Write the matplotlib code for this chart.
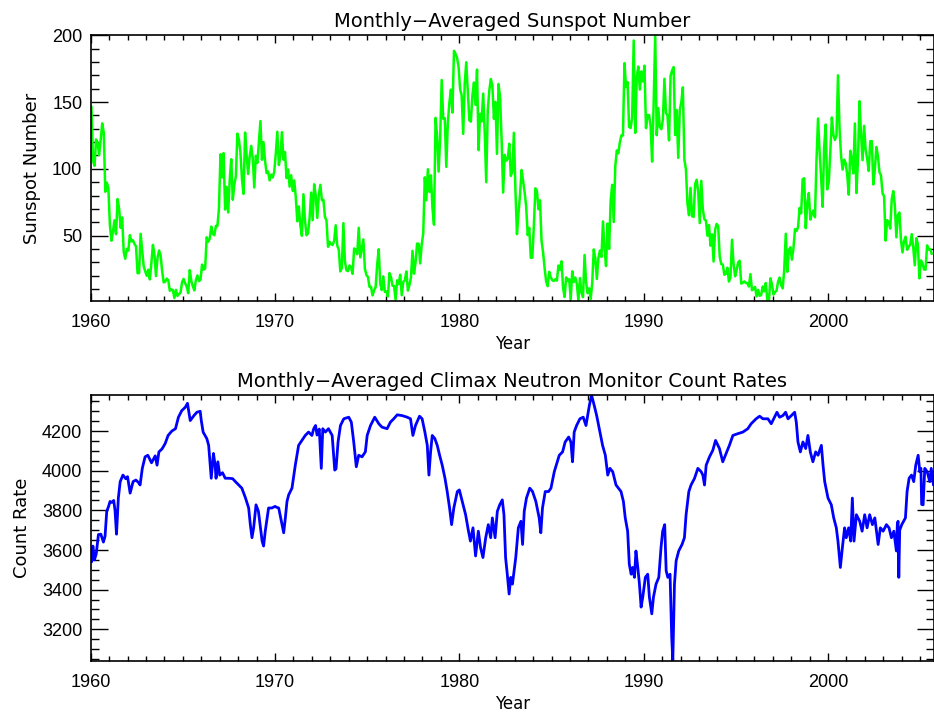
import numpy as np
import matplotlib
matplotlib.use('Agg')
import matplotlib.pyplot as plt
from matplotlib.ticker import MultipleLocator

plt.rcParams['font.family'] = ['Liberation Sans', 'DejaVu Sans']

# Середньомісячне число сонячних плям, січень 1960 - серпень 2005
sunspot = np.array([
    146.3, 106.0, 102.2, 122.0, 119.6, 110.2, 121.7, 134.1, 127.2, 82.8, 89.6, 85.6,   # 1960
    57.9, 46.1, 53.0, 61.4, 51.0, 77.4, 70.2, 55.8, 63.6, 37.7, 32.6, 40.0,            # 1961
    38.7, 50.3, 45.6, 46.4, 43.7, 42.0, 21.8, 21.8, 51.3, 39.5, 26.9, 23.2,            # 1962
    19.8, 24.4, 17.1, 29.3, 43.0, 35.9, 19.6, 33.2, 38.8, 35.3, 23.4, 14.9,            # 1963
    15.3, 17.7, 16.5, 8.6, 9.5, 9.1, 3.1, 9.3, 4.7, 6.1, 7.4, 15.1,                    # 1964
    17.5, 14.2, 11.7, 6.8, 24.1, 15.9, 11.9, 8.9, 16.8, 20.1, 15.8, 17.0,              # 1965
    28.2, 24.4, 25.3, 48.7, 45.3, 47.7, 56.7, 51.2, 50.2, 57.2, 57.2, 70.4,            # 1966
    110.9, 93.6, 111.8, 69.5, 86.5, 67.3, 91.5, 107.2, 76.8, 88.2, 94.3, 126.4,        # 1967
    121.8, 111.9, 92.2, 81.2, 127.2, 110.3, 96.1, 109.3, 117.2, 107.7, 86.0, 109.8,    # 1968
    104.4, 120.5, 135.8, 106.8, 120.0, 106.0, 96.8, 98.0, 91.3, 95.7, 93.5, 97.9,      # 1969
    111.5, 127.8, 102.9, 109.5, 127.5, 106.8, 112.5, 93.0, 99.5, 86.6, 95.2, 83.5,     # 1970
    91.3, 79.0, 60.7, 71.8, 57.5, 49.8, 81.0, 61.4, 50.2, 51.7, 63.2, 82.2,            # 1971
    61.5, 88.4, 80.1, 63.2, 80.5, 88.0, 76.5, 76.8, 64.0, 61.3, 41.6, 45.3,            # 1972
    43.4, 42.9, 46.0, 57.7, 42.4, 39.5, 23.1, 25.6, 59.3, 30.7, 23.9, 23.3,            # 1973
    27.6, 26.0, 21.3, 40.3, 39.5, 36.0, 55.8, 33.6, 40.2, 47.1, 25.0, 20.5,            # 1974
    18.9, 11.5, 11.5, 5.1, 9.0, 11.4, 28.2, 39.7, 13.9, 9.1, 19.4, 7.8,                # 1975
    8.1, 4.3, 21.9, 18.8, 12.4, 12.2, 1.9, 16.4, 13.5, 20.6, 5.2, 15.3,                # 1976
    16.4, 23.1, 8.7, 12.9, 18.6, 38.5, 21.4, 30.1, 44.0, 43.8, 29.1, 43.2,             # 1977
    51.9, 93.6, 76.5, 99.7, 82.7, 95.1, 70.4, 58.1, 138.2, 125.1, 97.9, 122.7,         # 1978
    166.6, 137.5, 138.0, 101.5, 134.4, 149.5, 159.4, 142.2, 188.4, 186.2, 183.3, 176.3,  # 1979
    159.6, 155.0, 126.2, 164.1, 179.9, 157.3, 136.3, 135.4, 155.0, 164.7, 147.9, 174.4,  # 1980
    114.0, 141.3, 135.5, 156.4, 127.5, 90.0, 143.8, 158.7, 167.3, 162.4, 137.5, 150.1,   # 1981
    111.2, 163.6, 153.8, 122.0, 82.2, 110.4, 106.1, 107.6, 118.8, 94.7, 98.1, 127.0,     # 1982
    84.3, 51.0, 66.5, 80.7, 99.2, 91.1, 82.2, 71.8, 50.3, 55.8, 33.3, 33.4,            # 1983
    57.0, 85.4, 83.5, 69.7, 76.4, 46.1, 37.4, 25.5, 15.7, 12.0, 22.8, 18.7,            # 1984
    16.5, 15.9, 17.2, 16.2, 27.5, 24.2, 30.7, 11.1, 3.9, 18.6, 16.2, 17.3,             # 1985
    2.5, 23.2, 15.1, 18.5, 13.7, 1.1, 18.1, 7.4, 3.8, 35.4, 15.2, 6.8,                 # 1986
    10.4, 2.4, 14.7, 39.6, 33.0, 17.4, 33.0, 38.7, 33.9, 60.6, 39.9, 27.1,             # 1987
    59.0, 40.0, 76.2, 88.0, 60.1, 101.8, 113.8, 111.6, 120.1, 125.1, 125.1, 179.2,     # 1988
    161.3, 165.1, 131.4, 130.6, 138.5, 196.2, 126.9, 168.9, 176.7, 159.4, 173.0, 165.5,  # 1989
    177.3, 130.5, 140.3, 140.3, 132.2, 105.4, 149.4, 200.3, 125.2, 145.5, 131.4, 129.7,  # 1990
    136.9, 167.5, 141.9, 140.0, 121.3, 169.7, 173.7, 176.3, 125.3, 144.1, 108.2, 144.4,  # 1991
    150.0, 161.1, 106.7, 99.8, 73.8, 65.2, 85.7, 64.5, 63.9, 88.7, 91.8, 82.6,         # 1992
    59.3, 91.0, 69.8, 62.2, 61.3, 49.8, 57.9, 42.4, 50.9, 30.5, 54.3, 58.7,            # 1993
    57.0, 34.2, 28.6, 28.3, 20.6, 21.3, 25.9, 15.5, 18.9, 46.8, 28.8, 19.4,            # 1994
    24.2, 29.9, 31.1, 14.0, 14.5, 15.6, 14.5, 14.3, 11.8, 21.1, 9.0, 10.0,             # 1995
    11.5, 4.4, 9.2, 4.8, 5.5, 11.8, 8.2, 14.4, 1.6, 0.9, 17.9, 13.3,                   # 1996
    5.7, 7.6, 8.7, 15.5, 18.5, 12.7, 10.4, 24.4, 51.3, 22.8, 39.0, 41.2,               # 1997
    31.9, 40.3, 54.8, 53.4, 56.3, 70.7, 66.6, 92.2, 92.9, 55.5, 74.0, 81.9,            # 1998
    62.0, 66.3, 68.8, 63.7, 106.4, 137.7, 113.5, 93.7, 71.5, 116.7, 133.2, 84.6,       # 1999
    90.1, 112.9, 138.5, 125.5, 121.6, 124.9, 170.1, 130.5, 109.7, 99.4, 106.8, 104.4,  # 2000
    95.6, 80.6, 113.5, 107.7, 96.6, 134.0, 81.8, 106.4, 150.7, 125.5, 106.5, 132.2,    # 2001
    114.1, 107.4, 98.4, 120.7, 120.8, 88.3, 99.6, 116.4, 109.6, 97.5, 95.0, 81.6,      # 2002
    79.5, 46.2, 61.5, 60.0, 55.2, 77.4, 83.3, 72.7, 48.7, 65.5, 67.3, 46.5,            # 2003
    37.3, 45.8, 49.1, 39.3, 41.5, 43.2, 51.1, 40.9, 27.7, 48.0, 43.5, 17.9,            # 2004
    31.3, 29.2, 24.5, 24.4, 42.6, 39.6, 39.9, 36.4,                                    # 2005
])
sunspot_year = 1960 + (np.arange(len(sunspot)) + 0.5) / 12.0

# Швидкість лічби нейтронного монітора Climax
neutron_year = [
    1960.00, 1960.05, 1960.12, 1960.20, 1960.30, 1960.42, 1960.55, 1960.69, 1960.78,
    1960.87, 1960.97, 1961.05, 1961.14, 1961.25, 1961.32, 1961.40, 1961.50, 1961.60,
    1961.75, 1961.90, 1962.00, 1962.14, 1962.30, 1962.45, 1962.60, 1962.68, 1962.80,
    1962.95, 1963.10, 1963.30, 1963.50, 1963.60, 1963.70, 1963.87, 1964.04, 1964.20,
    1964.40, 1964.60, 1964.76, 1964.94, 1965.13, 1965.25, 1965.40, 1965.60, 1965.76,
    1965.94, 1966.00, 1966.10, 1966.30, 1966.40, 1966.54, 1966.66, 1966.75, 1966.80,
    1966.90, 1967.00, 1967.15, 1967.30, 1967.50, 1967.70, 1967.85, 1968.03, 1968.20,
    1968.40, 1968.57, 1968.66, 1968.75, 1968.84, 1968.97, 1969.10, 1969.30, 1969.38,
    1969.47, 1969.65, 1969.83, 1970.00, 1970.10, 1970.20, 1970.38, 1970.47, 1970.56,
    1970.65, 1970.74, 1970.92, 1971.10, 1971.28, 1971.46, 1971.64, 1971.82, 1972.00,
    1972.10, 1972.20, 1972.28, 1972.40, 1972.51, 1972.59, 1972.73, 1972.90, 1973.10,
    1973.24, 1973.31, 1973.42, 1973.55, 1973.73, 1974.00, 1974.14, 1974.27, 1974.41,
    1974.54, 1974.72, 1974.90, 1975.00, 1975.18, 1975.41, 1975.63, 1975.80, 1976.08,
    1976.26, 1976.44, 1976.63, 1976.90, 1977.17, 1977.35, 1977.48, 1977.62, 1977.84,
    1977.98, 1978.13, 1978.26, 1978.35, 1978.44, 1978.53, 1978.67, 1978.80, 1978.93,
    1979.07, 1979.22, 1979.34, 1979.47, 1979.58, 1979.70, 1979.89, 1980.00, 1980.16,
    1980.34, 1980.48, 1980.60, 1980.74, 1980.88, 1981.03, 1981.15, 1981.28, 1981.43,
    1981.57, 1981.70, 1981.79, 1981.94, 1982.06, 1982.19, 1982.33, 1982.42, 1982.51,
    1982.60, 1982.70, 1982.79, 1982.88, 1982.97, 1983.06, 1983.20, 1983.34, 1983.43,
    1983.52, 1983.64, 1983.82, 1983.97, 1984.15, 1984.33, 1984.42, 1984.51, 1984.66,
    1984.84, 1984.97, 1985.15, 1985.42, 1985.60, 1985.74, 1985.93, 1986.05, 1986.14,
    1986.23, 1986.36, 1986.54, 1986.72, 1986.87, 1986.96, 1987.05, 1987.17, 1987.32,
    1987.45, 1987.59, 1987.77, 1987.92, 1988.05, 1988.17, 1988.32, 1988.50, 1988.77,
    1988.90, 1989.00, 1989.13, 1989.22, 1989.32, 1989.40, 1989.50, 1989.58, 1989.68,
    1989.77, 1989.86, 1989.95, 1990.09, 1990.22, 1990.31, 1990.44, 1990.53, 1990.67,
    1990.82, 1990.94, 1991.03, 1991.14, 1991.22, 1991.31, 1991.43, 1991.52, 1991.58,
    1991.67, 1991.76, 1991.90, 1992.08, 1992.21, 1992.30, 1992.45, 1992.57, 1992.76,
    1992.94, 1993.12, 1993.21, 1993.30, 1993.39, 1993.57, 1993.75, 1993.90, 1994.11,
    1994.29, 1994.47, 1994.65, 1994.84, 1995.11, 1995.38, 1995.65, 1995.83, 1996.10,
    1996.29, 1996.47, 1996.74, 1996.92, 1997.10, 1997.23, 1997.37, 1997.55, 1997.70,
    1997.83, 1998.01, 1998.19, 1998.28, 1998.37, 1998.50, 1998.64, 1998.79, 1998.91,
    1999.04, 1999.18, 1999.33, 1999.46, 1999.64, 1999.73, 1999.82, 2000.00, 2000.18,
    2000.31, 2000.45, 2000.54, 2000.67, 2000.78, 2000.90, 2000.99, 2001.12, 2001.23,
    2001.32, 2001.41, 2001.54, 2001.72, 2001.85, 2001.99, 2002.12, 2002.26, 2002.41,
    2002.54, 2002.72, 2002.84, 2002.99, 2003.17, 2003.31, 2003.44, 2003.57, 2003.71,
    2003.76, 2003.80, 2003.84, 2003.89, 2004.00, 2004.20, 2004.29, 2004.40, 2004.53,
    2004.65, 2004.76, 2004.89, 2004.98, 2005.04, 2005.08, 2005.16, 2005.25, 2005.38,
    2005.52, 2005.60, 2005.72,
]
neutron_rate = [
    3600, 3540, 3620, 3550, 3580, 3678, 3680, 3640, 3670,
    3795, 3820, 3845, 3840, 3850, 3800, 3680, 3862, 3945,
    3978, 3960, 3970, 3887, 3945, 3953, 3940, 3928, 4012,
    4070, 4078, 4040, 4075, 4028, 4095, 4110, 4137, 4178,
    4200, 4212, 4270, 4303, 4320, 4340, 4253, 4278, 4295,
    4300, 4253, 4195, 4162, 4128, 3962, 4087, 4028, 3962,
    4045, 3978, 3990, 3962, 3962, 3960, 3945, 3928, 3912,
    3862, 3812, 3728, 3662, 3712, 3828, 3795, 3645, 3620,
    3695, 3812, 3812, 3820, 3815, 3812, 3728, 3687, 3762,
    3845, 3878, 3912, 4028, 4128, 4153, 4178, 4195, 4178,
    4212, 4228, 4180, 4210, 4012, 4212, 4195, 4212, 4178,
    4003, 4010, 4145, 4228, 4262, 4270, 4245, 4145, 4020,
    4078, 4070, 4095, 4178, 4228, 4270, 4237, 4220, 4212,
    4245, 4262, 4282, 4278, 4270, 4262, 4178, 4228, 4275,
    4262, 4195, 4128, 3978, 4095, 4178, 4162, 4128, 4078,
    4028, 3962, 3895, 3812, 3728, 3812, 3895, 3903, 3845,
    3778, 3703, 3645, 3712, 3570, 3695, 3612, 3562, 3662,
    3728, 3662, 3762, 3662, 3795, 3828, 3853, 3778, 3560,
    3478, 3378, 3462, 3428, 3495, 3562, 3712, 3745, 3628,
    3795, 3862, 3912, 3895, 3845, 3762, 3687, 3812, 3895,
    3895, 3912, 3995, 4078, 4095, 4145, 4170, 4145, 4045,
    4195, 4228, 4262, 4270, 4228, 4278, 4328, 4382, 4328,
    4278, 4212, 4128, 4078, 3978, 4012, 3995, 3928, 3895,
    3845, 3762, 3695, 3528, 3478, 3512, 3462, 3595, 3512,
    3428, 3312, 3362, 3462, 3478, 3362, 3278, 3362, 3428,
    3462, 3612, 3695, 3728, 3495, 3462, 3478, 3162, 3040,
    3428, 3545, 3595, 3628, 3662, 3778, 3895, 3928, 3962,
    4012, 3995, 3978, 3928, 4028, 4070, 4103, 4153, 4112,
    4045, 4087, 4128, 4178, 4187, 4195, 4212, 4237, 4262,
    4275, 4262, 4262, 4237, 4270, 4295, 4270, 4278, 4295,
    4262, 4278, 4295, 4245, 4145, 4095, 4145, 4112, 4178,
    4095, 4045, 4095, 4078, 4128, 4028, 3945, 3862, 3828,
    3762, 3712, 3645, 3512, 3612, 3712, 3662, 3712, 3645,
    3862, 3645, 3778, 3745, 3695, 3778, 3712, 3778, 3728,
    3762, 3628, 3712, 3695, 3728, 3712, 3662, 3695, 3595,
    3728, 3745, 3462, 3700, 3728, 3762, 3895, 3962, 3978,
    3945, 4028, 4078, 3995, 4012, 3830, 3828, 4012, 3995,
    3945, 4012, 3930,
]

label_font = ['DejaVu Sans']

fig = plt.figure(figsize=(9.34, 7.13), dpi=100)
ax1 = fig.add_axes([0.0971, 0.5778, 0.9029, 0.3731])
ax2 = fig.add_axes([0.0971, 0.0729, 0.9029, 0.3731])

ax1.plot(sunspot_year, sunspot, color='#00ff00', lw=1.8)
ax1.set_ylim(sunspot.min(), sunspot.max())
ax1.set_title('Monthly\u2212Averaged Sunspot Number', fontsize=14, pad=6, family=label_font)
ax1.set_ylabel('Sunspot Number', fontsize=13, labelpad=8, family=label_font)
ax1.yaxis.set_major_locator(MultipleLocator(50))
ax1.yaxis.set_minor_locator(MultipleLocator(10))

ax2.plot(neutron_year, neutron_rate, color='#0000ff', lw=2.0)
ax2.set_ylim(min(neutron_rate), max(neutron_rate))
ax2.set_title('Monthly\u2212Averaged Climax Neutron Monitor Count Rates', fontsize=14, pad=6,
              family=label_font)
ax2.set_ylabel('Count Rate', fontsize=13, labelpad=8, family=label_font)
ax2.yaxis.set_major_locator(MultipleLocator(200))
ax2.yaxis.set_minor_locator(MultipleLocator(50))

for ax in (ax1, ax2):
    ax.set_xlim(1960, 2005.75)
    ax.set_xlabel('Year', fontsize=12, labelpad=3, family=label_font)
    ax.xaxis.set_major_locator(MultipleLocator(10))
    ax.xaxis.set_minor_locator(MultipleLocator(1))
    ax.tick_params(which='both', direction='in', top=True, right=True,
                   labelsize=13, width=1.0)
    ax.tick_params(axis='x', which='major', length=6, pad=9)
    ax.tick_params(axis='x', which='minor', length=3.5)
    ax.tick_params(axis='y', which='major', length=12, pad=6)
    ax.tick_params(axis='y', which='minor', length=6)
    for s in ax.spines.values():
        s.set_linewidth(1.2)

fig.savefig('out.png', dpi=100)
